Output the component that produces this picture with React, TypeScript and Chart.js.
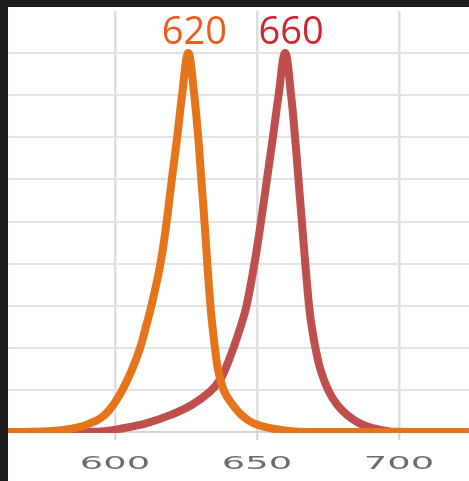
import React, { useEffect, useRef } from 'react';
import { Chart, registerables } from 'chart.js';

Chart.register(...registerables);

// Emission spectra (wavelength in nm, relative intensity)
const orangeWavelengths = [562.3, 575, 581, 588, 591, 594.7, 598, 601.8, 605.9, 608.8, 611.2, 612.9, 616.0, 618.2, 620.0, 621.9, 623.6, 625.8, 627.9, 629.3, 630.4, 631.5, 632.5, 633.6, 634.2, 635.2, 636.3, 638.5, 641.5, 644.6, 648.7, 654.6, 660.5, 668, 724.6];
const orangeIntensity = [0, 0.001, 0.004, 0.013, 0.02, 0.032, 0.052, 0.09, 0.147, 0.199, 0.258, 0.302, 0.4, 0.5, 0.6, 0.7, 0.8, 0.9, 0.8, 0.7, 0.6, 0.5, 0.4, 0.3, 0.258, 0.199, 0.147, 0.096, 0.064, 0.04, 0.021, 0.009, 0.003, 0, 0];

const redWavelengths = [562.3, 585, 594.7, 602.9, 611.2, 619.4, 627.0, 633.5, 637.0, 638.7, 641.7, 644.6, 646.4, 649.1, 651.4, 653.5, 655.6, 657.6, 659.9, 662.0, 663.4, 664.6, 665.8, 667.0, 668.3, 669.1, 670.6, 672.4, 675.3, 678.3, 681.8, 686.0, 690.7, 696.8, 705, 724.6];
const redIntensity = [0, 0, 0.001, 0.009, 0.021, 0.04, 0.064, 0.096, 0.124, 0.147, 0.199, 0.258, 0.302, 0.4, 0.5, 0.6, 0.7, 0.8, 0.9, 0.8, 0.7, 0.6, 0.5, 0.4, 0.302, 0.258, 0.199, 0.147, 0.096, 0.064, 0.04, 0.021, 0.009, 0.001, 0, 0];

const peakLabels = ['620', '660'];
const xTickValues = [600, 650, 700];

const ORANGE = '#e5741a';
const RED = '#bf4f4c';
const LABEL_COLORS = ['#f05a1c', '#d3232f'];

export default function App() {
  const canvasRef = useRef<HTMLCanvasElement | null>(null);

  useEffect(() => {
    const canvas = canvasRef.current;
    if (!canvas) return;

    const peakLabelPlugin = {
      id: 'peakLabels',
      afterDatasetsDraw(chart: any) {
        const { ctx, chartArea } = chart;
        const xs = chart.scales.x;
        ctx.save();
        ctx.font = '38px "Open Sans"';
        ctx.textAlign = 'center';
        ctx.textBaseline = 'alphabetic';
        chart.data.datasets.forEach((ds: any, i: number) => {
          let best = ds.data[0];
          ds.data.forEach((p: any) => { if (p.y > best.y) best = p; });
          const px = xs.getPixelForValue(best.x) + 6;
          ctx.fillStyle = LABEL_COLORS[i];
          ctx.fillText(peakLabels[i], px, chartArea.top + 32.5);
        });
        ctx.restore();
      },
    };

    const xTickLabelPlugin = {
      id: 'wideTicks',
      afterDraw(chart: any) {
        const { ctx, chartArea } = chart;
        const xs = chart.scales.x;
        ctx.save();
        ctx.font = '18px "DejaVu Sans"';
        ctx.fillStyle = '#6b6b6b';
        ctx.textAlign = 'center';
        ctx.textBaseline = 'alphabetic';
        xs.ticks.forEach((t: any) => {
          const px = xs.getPixelForValue(t.value);
          ctx.save();
          ctx.translate(px, chartArea.bottom + 37);
          ctx.scale(2.05, 1);
          ctx.fillText(String(t.value), 0, 0);
          ctx.restore();
        });
        ctx.restore();
      },
    };

    const common = {
      borderWidth: 8,
      pointRadius: 0,
      tension: 0.4,
      clip: { left: 5, right: 5, top: 5, bottom: 1 },
    };

    const chart = new Chart(canvas, {
      type: 'line',
      data: {
        datasets: [
          {
            ...common,
            label: '620',
            data: orangeWavelengths.map((x, i) => ({ x, y: orangeIntensity[i] })),
            borderColor: ORANGE,
          },
          {
            ...common,
            label: '660',
            data: redWavelengths.map((x, i) => ({ x, y: redIntensity[i] })),
            borderColor: RED,
          },
        ] as any,
      },
      options: {
        animation: false,
        responsive: false,
        maintainAspectRatio: false,
        layout: { padding: { top: 4, left: 0, right: 0, bottom: 0 } },
        plugins: { legend: { display: false }, tooltip: { enabled: false } },
        scales: {
          x: {
            type: 'linear',
            min: 562.32,
            max: 724.65,
            afterBuildTicks: (s: any) => { s.ticks = xTickValues.map((v) => ({ value: v })); },
            afterFit: (s: any) => { s.height = 49; },
            ticks: { display: false },
            grid: { color: '#dedede', lineWidth: 2.5, tickLength: 8, tickColor: '#d2d2d2', tickWidth: 2 },
            border: { display: true, color: '#d4d4d4', width: 2 },
          },
          y: {
            type: 'linear',
            min: 0,
            max: 1,
            ticks: { display: false, stepSize: 0.1 },
            afterFit: (s: any) => { s.width = 0; },
            grid: {
              drawTicks: false,
              lineWidth: 2,
              color: (c: any) => (c.tick && c.tick.value >= 0.999 ? 'rgba(0,0,0,0)' : '#e3e3e3'),
            },
            border: { display: false },
          },
        },
      },
      plugins: [peakLabelPlugin, xTickLabelPlugin],
    });

    return () => chart.destroy();
  }, []);

  return (
    <div style={{ position: 'absolute', left: 0, top: 0, width: 469, height: 481, background: '#1f1d19', overflow: 'hidden' }}>
      <div style={{ position: 'absolute', left: 8, top: 7, width: 461, height: 474, background: '#ffffff' }}>
        <canvas ref={canvasRef} width={461} height={474} style={{ display: 'block', width: 461, height: 474 }} />
      </div>
    </div>
  );
}
